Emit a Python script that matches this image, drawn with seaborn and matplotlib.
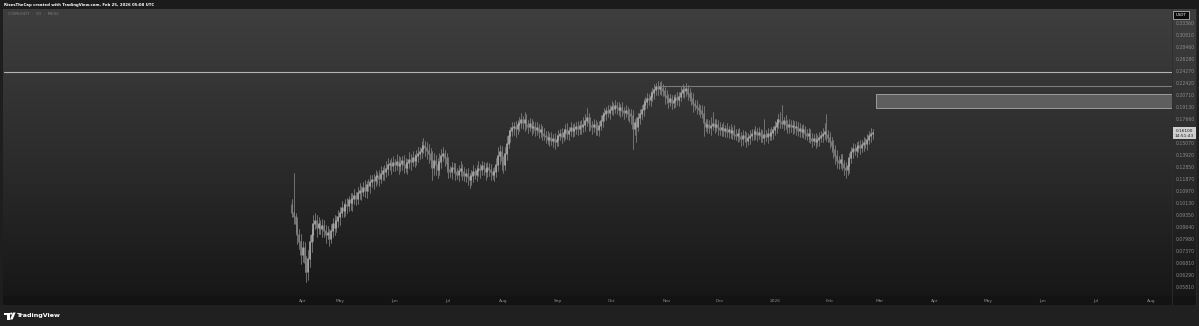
import numpy as np
import pandas as pd
import matplotlib
matplotlib.use("Agg")
import matplotlib.pyplot as plt
import seaborn as sns
from matplotlib.patches import Rectangle, Polygon, Circle
from matplotlib.colors import LinearSegmentedColormap
from matplotlib.ticker import NullLocator

# ---------------- data ----------------
last_date = "2026-02-25"
first_open = 0.100
closes = [
    .095, .092, .088, .082, .078, .072, .075, .068, .064, .070,
    .078, .082, .088, .090, .086, .088, .085, .087, .084, .082,
    .083, .080, .084, .088, .086, .090, .092, .095, .098, .096,
    .100, .099, .103, .101, .104, .106, .104, .108, .110, .109,
    .112, .110, .114, .113, .116, .118, .117, .120, .121, .119,
    .123, .125, .124, .127, .130, .131, .129, .132, .130, .133,
    .129, .131, .134, .130, .128, .132, .135, .133, .136, .134,
    .138, .140, .142, .145, .148, .146, .143, .140, .135, .128,
    .134, .130, .126, .133, .138, .140, .136, .131, .126, .124,
    .128, .127, .124, .122, .125, .127, .124, .121, .123, .120,
    .118, .121, .124, .122, .125, .127, .126, .129, .127, .124,
    .128, .126, .124, .122, .124, .130, .138, .142, .134, .130,
    .140, .150, .158, .163, .166, .168, .165, .170, .172, .175,
    .172, .176, .170, .168, .171, .166, .168, .164, .166, .162,
    .164, .160, .158, .157, .154, .156, .153, .155, .152, .154,
    .158, .160, .157, .161, .164, .160, .163, .166, .163, .165,
    .168, .165, .169, .167, .170, .174, .178, .172, .169, .167,
    .170, .166, .164, .169, .174, .180, .183, .186, .184, .188,
    .191, .189, .192, .190, .187, .190, .186, .184, .186, .183,
    .182, .180, .165, .172, .168, .178, .182, .188, .194, .198,
    .202, .200, .205, .210, .214, .218, .215, .219, .216, .212,
    .206, .203, .198, .201, .196, .199, .203, .200, .205, .210,
    .214, .212, .215, .209, .205, .202, .195, .193, .190, .188,
    .186, .183, .172, .168, .170, .166, .169, .171, .168, .170,
    .166, .164, .166, .163, .165, .162, .164, .161, .163, .159,
    .158, .160, .157, .155, .158, .156, .153, .156, .158, .160,
    .160, .162, .159, .161, .158, .156, .159, .157, .160, .158,
    .161, .164, .168, .172, .176, .173, .171, .174, .170, .168,
    .170, .167, .169, .166, .168, .163, .165, .162, .164, .160,
    .158, .160, .155, .153, .155, .152, .154, .156, .158, .160,
    .162, .159, .156, .152, .148, .144, .138, .134, .132, .135,
    .131, .128, .126, .129, .136, .142, .145, .143, .146, .148,
    .146, .149, .151, .150, .154, .158, .160, .161,
]
upper_wick_pct = [
    4, 30, 3, 5, 4, 6, 5, 4, 5, 6,
    5, 4, 6, 5, 4, 5, 3, 5, 4, 4,
    5, 3, 5, 4, 6, 3, 5, 4, 5, 3,
    4, 5, 3, 5, 4, 5, 3, 4, 5, 3,
    4, 5, 3, 4, 5, 3, 4, 5, 3, 4,
    5, 3, 4, 5, 5, 3, 4, 5, 3, 5,
    4, 5, 3, 4, 5, 3, 5, 4, 5, 3,
    4, 5, 3, 5, 5, 3, 4, 5, 4, 6,
    5, 4, 5, 6, 5, 5, 3, 4, 5, 3,
    4, 3, 4, 3, 4, 5, 3, 4, 3, 4,
    3, 4, 5, 3, 4, 5, 3, 4, 3, 4,
    4, 3, 4, 3, 4, 5, 6, 5, 4, 3,
    5, 5, 4, 3, 4, 3, 4, 3, 4, 5,
    3, 5, 4, 3, 4, 3, 4, 3, 4, 3,
    4, 3, 4, 3, 4, 3, 4, 3, 4, 3,
    4, 3, 4, 3, 4, 5, 3, 4, 3, 4,
    3, 4, 3, 4, 5, 5, 7, 3, 4, 3,
    4, 3, 4, 3, 4, 3, 4, 3, 4, 3,
    4, 3, 4, 3, 4, 3, 4, 3, 4, 3,
    3, 4, 4, 3, 4, 3, 4, 3, 4, 3,
    4, 3, 4, 3, 4, 3, 4, 3, 4, 3,
    3, 4, 3, 4, 3, 4, 3, 4, 3, 4,
    4, 3, 4, 3, 4, 3, 4, 3, 4, 3,
    3, 4, 5, 3, 4, 3, 6, 8, 3, 4,
    3, 4, 3, 4, 3, 4, 3, 4, 3, 4,
    4, 3, 4, 3, 4, 3, 4, 3, 4, 3,
    3, 4, 3, 4, 3, 4, 11, 3, 4, 3,
    4, 3, 4, 3, 4, 5, 12, 3, 4, 3,
    4, 3, 4, 3, 4, 3, 4, 3, 4, 3,
    3, 4, 3, 4, 3, 4, 3, 4, 3, 4,
    6, 13, 3, 4, 3, 4, 3, 4, 3, 4,
    4, 3, 4, 3, 4, 3, 4, 3, 4, 3,
    4, 3, 4, 3, 4, 3, 4, 3,
]
lower_wick_pct = [
    3, 4, 5, 6, 4, 6, 5, 6, 6, 5,
    5, 6, 4, 3, 6, 4, 3, 5, 4, 5,
    3, 5, 3, 4, 5, 3, 4, 5, 3, 4,
    3, 4, 3, 4, 5, 3, 4, 3, 4, 5,
    3, 4, 5, 3, 4, 3, 5, 3, 4, 5,
    3, 4, 5, 3, 4, 3, 5, 3, 4, 3,
    5, 3, 4, 5, 3, 4, 3, 5, 3, 4,
    3, 4, 3, 4, 3, 5, 5, 6, 5, 8,
    5, 6, 5, 3, 4, 3, 5, 5, 5, 3,
    4, 3, 5, 3, 4, 3, 5, 3, 4, 5,
    5, 3, 4, 3, 4, 3, 5, 3, 4, 5,
    3, 4, 5, 3, 4, 3, 4, 5, 6, 5,
    3, 4, 3, 4, 3, 4, 5, 3, 4, 3,
    4, 5, 3, 4, 3, 4, 3, 4, 3, 4,
    3, 4, 3, 4, 3, 4, 3, 4, 5, 3,
    4, 3, 4, 3, 4, 3, 4, 3, 4, 3,
    3, 4, 3, 4, 3, 4, 3, 5, 3, 4,
    3, 4, 3, 4, 3, 4, 3, 4, 3, 4,
    3, 4, 3, 4, 3, 4, 3, 4, 3, 4,
    5, 5, 12, 4, 10, 3, 4, 3, 4, 3,
    4, 3, 4, 3, 4, 3, 4, 3, 4, 3,
    5, 3, 4, 3, 4, 3, 4, 3, 4, 3,
    3, 4, 3, 4, 3, 4, 5, 3, 4, 3,
    4, 3, 8, 3, 4, 3, 4, 3, 4, 3,
    4, 3, 4, 3, 4, 3, 4, 3, 4, 3,
    3, 4, 3, 5, 4, 3, 4, 3, 4, 3,
    4, 3, 4, 3, 4, 3, 4, 3, 4, 3,
    3, 4, 3, 4, 3, 4, 3, 4, 3, 4,
    4, 3, 4, 3, 4, 3, 4, 3, 4, 3,
    3, 4, 3, 4, 3, 4, 3, 4, 3, 4,
    3, 4, 3, 4, 4, 5, 5, 5, 4, 3,
    4, 5, 5, 3, 4, 3, 4, 3, 4, 3,
    4, 3, 4, 3, 4, 3, 4, 3,
]

month_labels = ["Apr", "May", "Jun", "Jul", "Aug", "Sep", "Oct", "Nov", "Dec",
                "2026", "Feb", "Mar", "Apr", "May", "Jun", "Jul", "Aug"]
month_dates = ["2025-04-10", "2025-05-01", "2025-06-01", "2025-07-01", "2025-08-01",
               "2025-09-01", "2025-10-01", "2025-11-01", "2025-12-01", "2026-01-01",
               "2026-02-01", "2026-03-01", "2026-04-01", "2026-05-01", "2026-06-01",
               "2026-07-01", "2026-08-01"]
price_ticks = [0.3336, 0.3081, 0.2846, 0.2628, 0.2427, 0.2242, 0.2071, 0.1913, 0.1766,
               0.1507, 0.1392, 0.1285, 0.1187, 0.1097, 0.1013, 0.0935, 0.0864, 0.0798,
               0.0737, 0.0681, 0.0629, 0.0581]
level_full = 0.2411
level_peak = 0.2205
level_peak_start = "2025-10-27"
zone_low, zone_high = 0.1900, 0.2085
zone_start = "2026-02-27"
header_text = "RisesTheCap created with TradingView.com, Feb 25, 2026 05:08 UTC"
symbol_text = "COINUSDT  ·  1D  ·  MEXC"
countdown_text = "14:51:43"

# ---------------- layout constants ----------------
W, H = 1199, 326
ref_date = pd.Timestamp("2025-05-01")
PX_PER_DAY = 1.775
AX_L, AX_R, AX_T, AX_B = 4, 1172, 9, 296
X0_PX = 340  # pixel of ref_date
x_left = (AX_L - X0_PX) / PX_PER_DAY
x_right = (AX_R - X0_PX) / PX_PER_DAY
y_top_price, y_bot_price = 0.366, 0.0547

sns.set_theme(style="dark")
plt.rcParams["font.family"] = ["DejaVu Sans"]

fig = plt.figure(figsize=(W / 100, H / 100), dpi=100)
fig.patch.set_facecolor("#1e1e1e")

# background layer in pixel coords
ax_bg = fig.add_axes([0, 0, 1, 1], zorder=0)
ax_bg.set_xlim(0, W)
ax_bg.set_ylim(H, 0)
ax_bg.axis("off")
ax_bg.add_patch(Rectangle((0, 0), W, 9, fc="#1b1b1b", ec="none"))
cmap = LinearSegmentedColormap.from_list("g", ["#3e3e3e", "#2c2c2c", "#161616"])
grad = np.linspace(0, 1, 256).reshape(-1, 1)
ax_bg.imshow(grad, extent=[3, 1196, 305, 9], cmap=cmap, aspect="auto", interpolation="bilinear")
ax_bg.add_patch(Rectangle((3, 296), 1193, 9, fc="#131313", ec="none"))
ax_bg.add_patch(Rectangle((0, 305), W, 21, fc="#202020", ec="none"))
ax_bg.plot([1172, 1172], [9, 305], color="#2e2e2e", lw=0.6)
ax_bg.plot([1196, 1196], [9, 305], color="#2a2a2a", lw=0.6)

# main axes
ax = fig.add_axes([AX_L / W, (H - AX_B) / H, (AX_R - AX_L) / W, (AX_B - AX_T) / H], zorder=1)
ax.set_facecolor("none")

dates = pd.date_range(end=last_date, periods=len(closes), freq="D")
opens = [first_open] + closes[:-1]
df = pd.DataFrame({"date": dates, "open": opens, "close": closes,
                   "up": upper_wick_pct, "lo": lower_wick_pct})
df["x"] = (df["date"] - ref_date).dt.days
df["high"] = np.maximum(df["open"], df["close"]) * (1 + df["up"] / 100)
df["low"] = np.minimum(df["open"], df["close"]) * (1 - df["lo"] / 100)
df["dir"] = np.where(df["close"] >= df["open"], "up", "down")

wicks = df.melt(id_vars=["x"], value_vars=["low", "high"], value_name="price")
bodies = df.melt(id_vars=["x", "dir"], value_vars=["open", "close"], value_name="price")

sns.lineplot(data=wicks, x="x", y="price", units="x", estimator=None,
             color="#8e8e8e", linewidth=0.5, ax=ax, legend=False)
sns.lineplot(data=bodies, x="x", y="price", hue="dir", units="x", estimator=None,
             palette={"up": "#b2b2b2", "down": "#828282"}, linewidth=1.1, ax=ax, legend=False)

ax.set_yscale("log")
ax.set_xlim(x_left, x_right)
ax.set_ylim(y_bot_price, y_top_price)

# drawings
ax.axhline(level_full, color="#b4b4b4", lw=0.8)
peak_x = (pd.Timestamp(level_peak_start) - ref_date).days
ax.hlines(level_peak, peak_x, x_right, color="#7c7c7c", lw=0.8)
zx = (pd.Timestamp(zone_start) - ref_date).days
ax.add_patch(Rectangle((zx, zone_low), x_right - zx, zone_high - zone_low,
                       fc="#5e5e5e", ec="#9c9c9c", lw=0.7))

# axes styling
for s in ax.spines.values():
    s.set_visible(False)
ax.grid(False)
ax.set_xlabel("")
ax.set_ylabel("")
ax.yaxis.tick_right()
ax.yaxis.set_minor_locator(NullLocator())
ax.set_yticks(price_ticks)
ax.set_yticklabels([f"{p:.5f}" for p in price_ticks])
month_x = [(pd.Timestamp(d) - ref_date).days for d in month_dates]
ax.set_xticks(month_x)
ax.set_xticklabels(month_labels)
ax.tick_params(axis="y", length=0, pad=3.0, labelsize=3.3, colors="#8a8a8a")
ax.tick_params(axis="x", length=0, pad=2.2, labelsize=3.2, colors="#8a8a8a")

# overlay layer for labels
ax_ov = fig.add_axes([0, 0, 1, 1], zorder=2)
ax_ov.set_xlim(0, W)
ax_ov.set_ylim(H, 0)
ax_ov.axis("off")
ax_ov.patch.set_alpha(0)

ax_ov.text(4, 4.6, header_text, color="white", fontsize=2.8, fontweight="bold", va="center", ha="left")
ax_ov.text(8, 14, symbol_text, color="#7a7a7a", fontsize=3.0, va="center", ha="left")

# currency box
ax_ov.add_patch(Rectangle((1173, 10.5), 16, 8, fc="#0c0c0c", ec="#d0d0d0", lw=0.5))
ax_ov.text(1181, 14.5, "USDT", color="white", fontsize=2.8, va="center", ha="center")

# last-price label
last_y = AX_T + (AX_B - AX_T) * (np.log(y_top_price) - np.log(closes[-1])) / (np.log(y_top_price) - np.log(y_bot_price))
ax_ov.add_patch(Rectangle((1172.5, last_y - 5.5), 23, 11.5, fc="#cfcfcf", ec="none"))
ax_ov.text(1184, last_y - 2.3, f"{closes[-1]:.5f}", color="#1a1a1a", fontsize=3.1, va="center", ha="center")
ax_ov.text(1184, last_y + 2.8, countdown_text, color="#1a1a1a", fontsize=3.1, va="center", ha="center")

# footer logo
ax_ov.add_patch(Polygon([[3.5, 312.5], [9.5, 312.5], [9.5, 319.5], [7.2, 319.5], [7.2, 314.6], [3.5, 314.6]],
                        closed=True, fc="white", ec="none"))
ax_ov.add_patch(Circle((11.2, 313.6), 1.1, fc="white", ec="none"))
ax_ov.add_patch(Polygon([[13.0, 312.5], [15.6, 312.5], [12.6, 319.5], [10.0, 319.5]],
                        closed=True, fc="white", ec="none"))
ax_ov.text(17, 316, "TradingView", color="white", fontsize=4.6, fontweight="bold", va="center", ha="left")

fig.savefig("out.png", dpi=100, facecolor=fig.get_facecolor())
